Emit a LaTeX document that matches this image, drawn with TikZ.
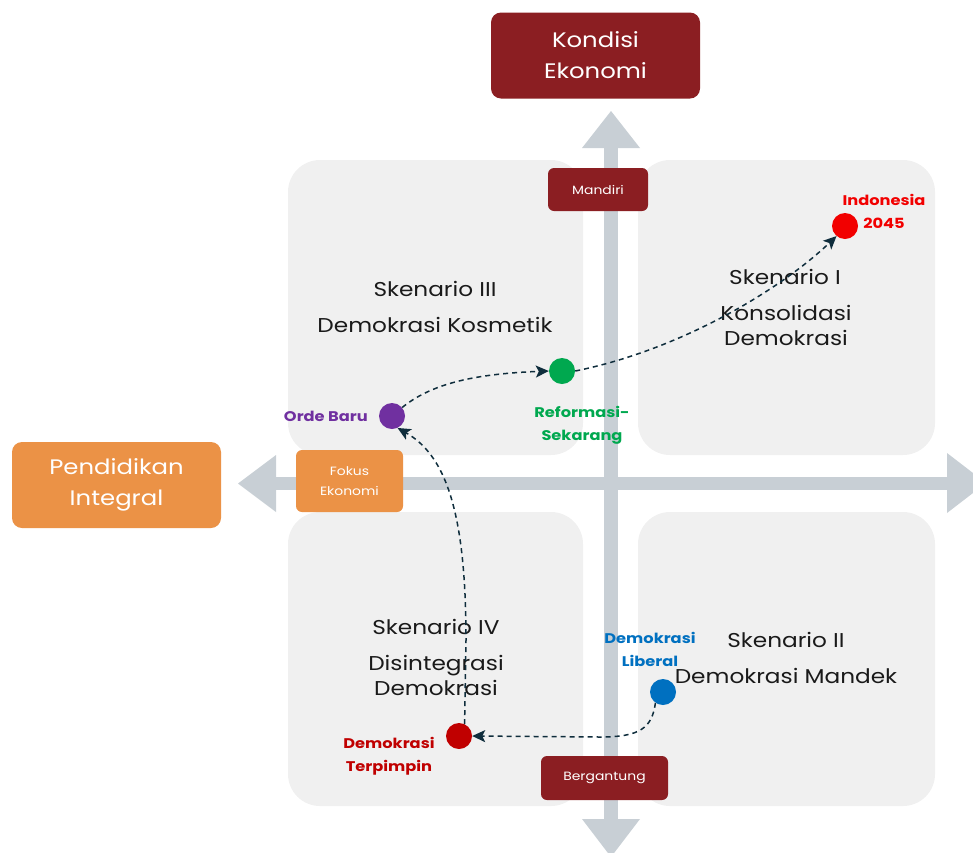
\documentclass[tikz,border=0pt]{standalone}
\usepackage{fontspec}
\setmainfont{Poppins}[FakeStretch=1.16]
\usetikzlibrary{arrows.meta}
\definecolor{darkred}{HTML}{8B1E22}
\definecolor{orangebox}{HTML}{EB9246}
\definecolor{arrowgrey}{HTML}{C8CFD5}
\definecolor{quad}{HTML}{F0F0F0}
\definecolor{flowc}{HTML}{0F2D3C}
\definecolor{txt}{HTML}{1A1A1A}
\definecolor{cindo}{HTML}{F20000}
\definecolor{cref}{HTML}{00A84F}
\definecolor{corde}{HTML}{7030A0}
\definecolor{clib}{HTML}{0070C0}
\definecolor{cterp}{HTML}{C00000}
\tikzset{
  quadbox/.style={fill=quad, rounded corners=32pt},
  bigbox/.style={rounded corners=10pt, text=white, align=center, font=\fontsize{21}{31}\selectfont, minimum width=209pt, minimum height=86pt, inner sep=0pt},
  smallbox/.style={rounded corners=6pt, text=white, align=center, font=\fontsize{12}{20}\selectfont, inner sep=0pt},
  dot/.style={circle, minimum size=26pt, inner sep=0pt},
  lbl/.style={font=\bfseries\fontsize{14}{23}\selectfont, align=center, inner sep=0pt},
  sken/.style={font=\fontsize{20}{25}\selectfont, text=txt, align=center, inner sep=0pt},
  flow/.style={draw=flowc, line width=1.5pt, dash pattern=on 5pt off 4pt, -{Stealth[length=13pt,width=12pt,inset=3pt]}},
}
\begin{document}
\begin{tikzpicture}[x=1pt,y=-1pt]
\useasboundingbox (0,0) rectangle (973,852);
\clip (0,0) rectangle (973,852);
% quadrants
\fill[quadbox] (288,160) rectangle (583,455);
\fill[quadbox] (638,160) rectangle (935,455);
\fill[quadbox] (288,512) rectangle (583,806);
\fill[quadbox] (638,512) rectangle (935,806);
% axes
\fill[arrowgrey] (604,146) rectangle (618,822);
\fill[arrowgrey] (582,148) -- (611,111) -- (640,148) -- cycle;
\fill[arrowgrey] (582,819) -- (611,857) -- (640,819) -- cycle;
\fill[arrowgrey] (274,477) rectangle (950,490);
\fill[arrowgrey] (276,455) -- (238,483.5) -- (276,512) -- cycle;
\fill[arrowgrey] (947,453) -- (986,483) -- (947,513) -- cycle;
% boxes
\node[bigbox, fill=darkred] (kond) at (595.5,55.5) {Kondisi\\Ekonomi};
\node[bigbox, fill=orangebox] (pend) at (116.5,485) {Pendidikan\\Integral};
\node[smallbox, fill=darkred, minimum width=100pt, minimum height=43pt] (mand) at (598,189.5) {Mandiri};
\node[smallbox, fill=orangebox, minimum width=107pt, minimum height=62pt] (fokus) at (349.5,481) {Fokus\\Ekonomi};
\node[smallbox, fill=darkred, minimum width=127pt, minimum height=44pt] (berg) at (604.5,778) {Bergantung};
% scenario texts
\node[sken] (s3a) at (435,289) {Skenario III};
\node[sken] (s3b) at (435,325) {Demokrasi Kosmetik};
\node[sken] (s1a) at (785,277) {Skenario I};
\node[sken] (s1b) at (786,325.5) {Konsolidasi\\Demokrasi};
\node[sken] (s4a) at (436,627) {Skenario IV};
\node[sken] (s4b) at (436,675.5) {Disintegrasi\\Demokrasi};
\node[sken] (s2a) at (786,640) {Skenario II};
\node[sken] (s2b) at (786,676) {Demokrasi Mandek};
% dots
\node[dot, fill=cindo] (indo) at (845,226) {};
\node[dot, fill=cref] (ref) at (562,371) {};
\node[dot, fill=corde] (orde) at (392,416) {};
\node[dot, fill=clib] (lib) at (663,692) {};
\node[dot, fill=cterp] (terp) at (459,736) {};
% labels
\node[lbl, text=cindo] (indol) at (884,211) {Indonesia\\2045};
\node[lbl, text=cref] (refl) at (582,425.5) {Reformasi-\\Sekarang};
\node[lbl, text=corde, anchor=east] (ordel) at (368,416) {Orde Baru};
\node[lbl, text=clib] (libl) at (650,649.5) {Demokrasi\\Liberal};
\node[lbl, text=cterp] (terpl) at (389,756.5) {Demokrasi\\Terpimpin};
% flows
\draw[flow] (lib.235) .. controls (652,728) and (640,737) .. (600,737) -- (terp.east);
\draw[flow] (terp.65) -- (466,640) .. controls (466,510) and (445,455) .. (orde.-65);
\draw[flow] (orde.40) .. controls (430,385) and (470,374) .. (ref.west);
\draw[flow] (ref.east) .. controls (680,350) and (780,290) .. (indo.-130);
\end{tikzpicture}
\end{document}
